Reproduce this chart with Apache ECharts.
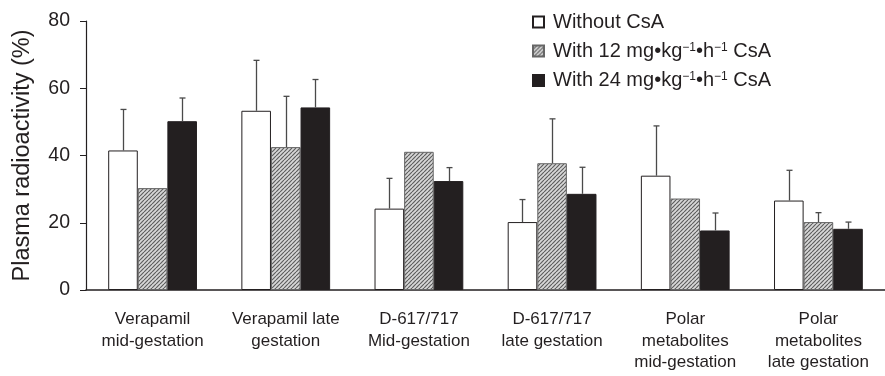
<!DOCTYPE html>
<html><head><meta charset="utf-8">
<script src="https://cdn.jsdelivr.net/npm/echarts@6/dist/echarts.min.js"></script>
<style>html,body{margin:0;padding:0;background:#fff}#c{width:885px;height:376px}</style>
</head><body><div id="c"></div>
<script>
const categories = ["Verapamil\nmid-gestation","Verapamil late\ngestation","D-617/717\nMid-gestation","D-617/717\nlate gestation","Polar\nmetabolites\nmid-gestation","Polar\nmetabolites\nlate gestation"];
const seriesNames = ["Without CsA","With 12 mg•kg{s|−1}•h{s|−1} CsA","With 24 mg•kg{s|−1}•h{s|−1} CsA"];
const withoutCsA = [41.5, 53.3, 24.2, 20.2, 34.0, 26.6];
const withoutCsAErr = [12.2, 15.0, 9.0, 6.7, 14.8, 9.0];
const with12 = [30.3, 42.5, 41.1, 37.7, 27.2, 20.2];
const with12Err = [null, 15.1, null, 13.2, null, 2.8];
const with24 = [50.2, 54.3, 32.4, 28.6, 17.7, 18.2];
const with24Err = [6.9, 8.3, 4.0, 7.9, 5.2, 2.0];
const yTicks = [0, 20, 40, 60, 80];

const ink = '#231f20';
const pc = document.createElement('canvas');
pc.width = 4; pc.height = 4;
const g = pc.getContext('2d');
g.fillStyle = '#d8d8d8'; g.fillRect(0,0,4,4);
g.strokeStyle = '#5e5e5e'; g.lineWidth = 1.2;
[-4,0,4].forEach((dx)=>{g.beginPath();g.moveTo(dx,4);g.lineTo(dx+4,0);g.stroke();});
const hatch = {image: pc, repeat: 'repeat'};

const gapFrac = 1/3;
const means = [withoutCsA, with12, with24];
const errs = [withoutCsAErr, with12Err, with24Err];
const styles = [
  {color:'#ffffff', borderColor: ink, borderWidth: 1},
  {color: hatch, borderColor: '#666', borderWidth: 1},
  {color: ink, borderColor: ink, borderWidth: 1}
];
const series = [];
means.forEach((m,k)=>{
  series.push({type:'bar', name: seriesNames[k], data: m, barGap: '0%', barCategoryGap: (gapFrac*100)+'%', itemStyle: styles[k], z: 2});
});
means.forEach((m,k)=>{
  const data = [];
  m.forEach((v,i)=>{ if (errs[k][i] != null) data.push([i, v, v + errs[k][i]]); });
  series.push({type:'custom', name: 'err'+k, data: data, z: 3, silent: true,
    renderItem: function(params, api){
      const b = api.coord([api.value(0), api.value(1)]);
      const t = api.coord([api.value(0), api.value(2)]);
      const band = api.size([1,0])[0];
      const bw = band*(1-gapFrac)/3;
      const x = Math.round(b[0] + (k-1)*bw) + 0.5;
      const st = {stroke: '#4a4a4a', lineWidth: 1.3};
      return {type:'group', children:[
        {type:'line', shape:{x1:x, y1:b[1], x2:x, y2:t[1]}, style: st},
        {type:'line', shape:{x1:x-3, y1:t[1], x2:x+3, y2:t[1]}, style: st}
      ]};
    }});
});

const chart = echarts.init(document.getElementById('c'), null, {renderer:'canvas'});
chart.setOption({
  animation: false,
  backgroundColor: '#fff',
  textStyle: {fontFamily: 'Liberation Sans, Arial, sans-serif', color: ink},
  legend: {
    data: seriesNames,
    icon: 'rect',
    orient: 'vertical', left: 527, top: 7,
    itemWidth: 11, itemHeight: 11, itemGap: 9,
    textStyle: {fontSize: 20, color: ink, lineHeight: 19, padding: [0,0,0,4],
      rich: {s: {fontSize: 12, verticalAlign: 'top', lineHeight: 12, padding: [0,0,8,0], color: ink}}},
  },
  grid: {left: 86, top: 21, bottom: 86, right: -11},
  xAxis: {
    type: 'category', data: categories,
    axisLine: {lineStyle: {color: ink, width: 1.5}},
    axisTick: {show: false},
    axisLabel: {fontSize: 17, color: ink, lineHeight: 21.5, margin: 19, interval: 0}
  },
  yAxis: {
    type: 'value', min: yTicks[0], max: yTicks[yTicks.length-1], interval: 20,
    name: 'Plasma radioactivity (%)', nameLocation: 'middle', nameGap: 51,
    nameTextStyle: {fontSize: 23.5, color: ink},
    axisLine: {show: true, lineStyle: {color: ink, width: 1.2}},
    axisTick: {show: true, length: 6, lineStyle: {color: ink}},
    splitLine: {show: false},
    axisLabel: {fontSize: 19.5, color: ink, margin: 16}
  },
  series: series
});
</script></body></html>
